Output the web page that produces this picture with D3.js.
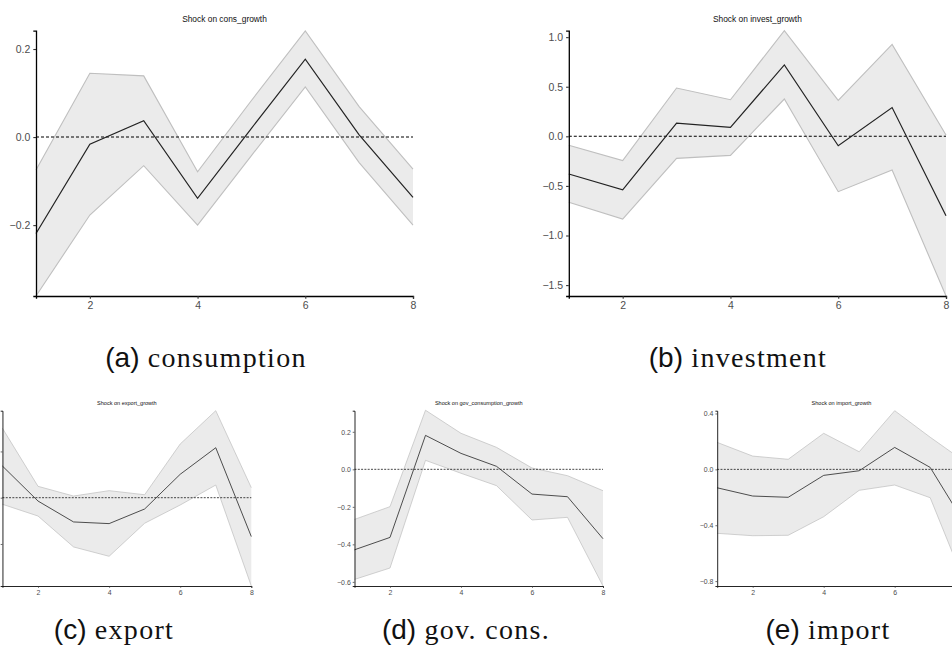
<!DOCTYPE html>
<html>
<head>
<meta charset="utf-8">
<script src="https://cdn.jsdelivr.net/npm/d3@7"></script>
<style>
  html, body { margin: 0; padding: 0; background: #fff; }
  svg { display: block; }
</style>
</head>
<body>
<svg id="chart" width="952" height="653"></svg>
<script>
// horizon steps
const steps = [1, 2, 3, 4, 5, 6, 7, 8];
const xTicks = [2, 4, 6, 8];

// impulse responses
const consMean  = [-0.219, -0.016, 0.037, -0.139, 0.02, 0.177, 0.005, -0.137];
const consUpper = [-0.075, 0.145, 0.139, -0.079, 0.083, 0.241, 0.069, -0.073];
const consLower = [-0.361, -0.177, -0.065, -0.2, -0.042, 0.114, -0.058, -0.2];

const investMean  = [-0.38, -0.54, 0.134, 0.09, 0.72, -0.095, 0.29, -0.80];
const investUpper = [-0.09, -0.245, 0.487, 0.369, 1.065, 0.363, 0.927, 0.013];
const investLower = [-0.665, -0.834, -0.222, -0.192, 0.376, -0.558, -0.34, -1.61];

const exportMean  = [0.342, -0.036, -0.262, -0.28, -0.122, 0.253, 0.54, -0.42];
const exportUpper = [0.75, 0.123, 0.018, 0.076, 0.032, 0.58, 0.94, 0.108];
const exportLower = [-0.071, -0.198, -0.532, -0.633, -0.276, -0.079, 0.137, -0.954];

const govMean  = [-0.429, -0.363, 0.181, 0.085, 0.016, -0.132, -0.146, -0.37];
const govUpper = [-0.267, -0.199, 0.315, 0.192, 0.117, 0.007, -0.034, -0.114];
const govLower = [-0.587, -0.526, 0.048, -0.021, -0.087, -0.27, -0.256, -0.622];

const importMean  = [-0.132, -0.191, -0.2, -0.043, -0.01, 0.157, 0.014, -0.40];
const importUpper = [0.193, 0.095, 0.072, 0.258, 0.126, 0.42, 0.23, 0.05];
const importLower = [-0.458, -0.475, -0.472, -0.339, -0.15, -0.112, -0.203, -0.83];

// y tick labels per panel
const consTicks = [-0.2, 0, 0.2];
const investTicks = [-1.5, -1, -0.5, 0, 0.5, 1];
const exportTicks = [-0.5, 0, 0.5];   // labels fall off the page in the original
const govTicks = [-0.6, -0.4, -0.2, 0, 0.2];
const importTicks = [-0.8, -0.4, 0, 0.4];

const svg = d3.select("#chart");
const pageW = +svg.attr("width");

function drawPanel(p) {
    const s = p.scale; // 1 for top row, ~0.66 for bottom row
    const xScale = d3.scaleLinear().domain([1, 8]).range([p.x1, p.x8]);
    const yScale = d3.scaleLinear().domain(p.yDomain).range([p.bottom, p.top]);

    const g = svg.append("g");
    const rows = steps.map((d, i) => ({ x: d, m: p.mean[i], lo: p.lower[i], hi: p.upper[i] }));

    // confidence band
    g.append("path")
        .datum(rows)
        .attr("fill", "#ebebeb")
        .attr("d", d3.area().x(d => xScale(d.x)).y0(d => yScale(d.lo)).y1(d => yScale(d.hi)));

    ["hi", "lo"].forEach(k => {
        g.append("path")
            .datum(rows)
            .attr("fill", "none")
            .attr("stroke", "#bfbfbf")
            .attr("stroke-width", 1.1 * s)
            .attr("d", d3.line().x(d => xScale(d.x)).y(d => yScale(d[k])));
    });

    // zero line
    g.append("line")
        .attr("x1", xScale(1)).attr("x2", xScale(8))
        .attr("y1", yScale(0)).attr("y2", yScale(0))
        .attr("stroke", "#000")
        .attr("stroke-width", 1.1 * s)
        .attr("stroke-dasharray", `${3 * s},${2 * s}`);

    // response
    g.append("path")
        .datum(rows)
        .attr("fill", "none")
        .attr("stroke", "#222")
        .attr("stroke-width", 1.2 * s)
        .attr("d", d3.line().x(d => xScale(d.x)).y(d => yScale(d.m)));

    const fmt = d3.format(".1f");
    const yAxis = d3.axisLeft(yScale).tickValues(p.yTicks).tickFormat(fmt)
        .tickSize(2.7 * s).tickPadding(3 * s);
    const xAxis = d3.axisBottom(xScale).tickValues(xTicks).tickFormat(d3.format("d"))
        .tickSize(2.7 * s).tickPadding(3 * s);

    const ya = g.append("g").attr("transform", `translate(${p.x1},0)`).call(yAxis);
    const xa = g.append("g").attr("transform", `translate(0,${p.bottom})`).call(xAxis);

    [ya, xa].forEach(a => {
        a.select(".domain").attr("stroke", "#000").attr("stroke-width", 1.3 * s);
        a.selectAll(".tick line").attr("stroke", "#333").attr("stroke-width", 1.1 * s);
        a.selectAll(".tick text")
            .attr("fill", "#4d4d4d")
            .style("font-family", "'Liberation Sans', Arial, sans-serif")
            .style("font-size", (10.5 * s) + "px");
    });
    // labels that sit outside the page in the original are not drawn
    if (p.hideY) ya.selectAll(".tick text").remove();
    xa.selectAll(".tick").filter(d => xScale(d) > pageW).select("text").remove();

    // title
    g.append("text")
        .attr("x", (p.x1 + p.x8) / 2)
        .attr("y", p.top - 9 * s)
        .attr("text-anchor", "middle")
        .style("font-family", "'Liberation Sans', Arial, sans-serif")
        .style("font-size", (8.4 * s) + "px")
        .attr("fill", "#111")
        .text(p.title);

    // caption
    const cap = svg.append("text")
        .attr("x", p.capX)
        .attr("y", p.capY)
        .attr("text-anchor", "middle")
        .style("font-size", "28px")
        .attr("fill", "#111");
    cap.append("tspan").style("font-family", "'Liberation Sans', Arial, sans-serif").text(p.tag);
    cap.append("tspan").style("font-family", "'Liberation Serif', 'Times New Roman', serif")
        .style("letter-spacing", "1.3px")
        .text(" " + p.caption);
}

drawPanel({ title: "Shock on cons_growth", mean: consMean, upper: consUpper, lower: consLower,
    yTicks: consTicks, yDomain: [-0.361, 0.2416], x1: 36, x8: 413, top: 30.7, bottom: 296, scale: 1,
    tag: "(a)", caption: "consumption", capX: 206, capY: 367 });

drawPanel({ title: "Shock on invest_growth", mean: investMean, upper: investUpper, lower: investLower,
    yTicks: investTicks, yDomain: [-1.61, 1.065], x1: 568.8, x8: 946, top: 30.7, bottom: 296, scale: 1,
    tag: "(b)", caption: "investment", capX: 738, capY: 367 });

drawPanel({ title: "Shock on export_growth", mean: exportMean, upper: exportUpper, lower: exportLower,
    yTicks: exportTicks, yDomain: [-0.954, 0.94], x1: 2.45, x8: 251.3, top: 410.7, bottom: 586, scale: 0.66,
    hideY: true, tag: "(c)", caption: "export", capX: 114, capY: 639 });

drawPanel({ title: "Shock on gov_consumption_growth", mean: govMean, upper: govUpper, lower: govLower,
    yTicks: govTicks, yDomain: [-0.622, 0.3125], x1: 354.5, x8: 603, top: 410.7, bottom: 586, scale: 0.66,
    tag: "(d)", caption: "gov.  cons.", capX: 466, capY: 639 });

drawPanel({ title: "Shock on import_growth", mean: importMean, upper: importUpper, lower: importLower,
    yTicks: importTicks, yDomain: [-0.835, 0.42], x1: 717.2, x8: 965.7, top: 410.7, bottom: 586, scale: 0.66,
    tag: "(e)", caption: "import", capX: 828, capY: 639 });
</script>
</body>
</html>
